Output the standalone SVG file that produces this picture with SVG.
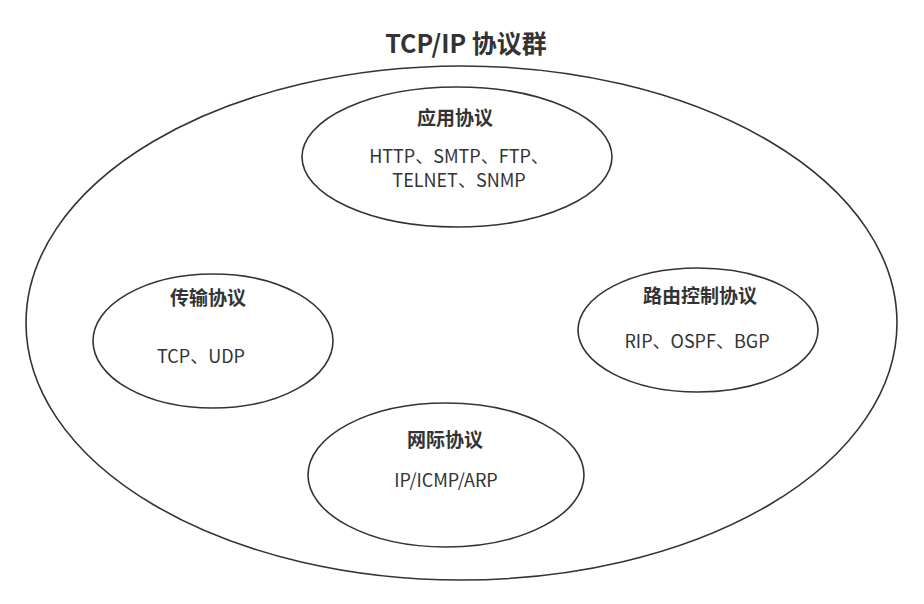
<svg xmlns="http://www.w3.org/2000/svg" width="924" height="604" viewBox="0 0 924 604">
<style>
.e{fill:none;stroke:#333;stroke-width:1.6}
.t{font-family:"Noto Sans CJK SC","Noto Sans",sans-serif;fill:#333;text-anchor:middle}
.h{font-size:19px;font-weight:bold}
.b{font-size:18px}
.title{font-size:25px;font-weight:bold}
</style>
<rect width="924" height="604" fill="#fff"/>
<g id="group">
<ellipse class="e" cx="461.5" cy="323" rx="435.5" ry="257"/>
<text class="t title" x="466" y="53">TCP/IP 协议群</text>
</g>
<g id="connectors"></g>
<g id="app">
<ellipse class="e" cx="457" cy="157" rx="155" ry="70"/>
<text class="t h" x="455" y="125">应用协议</text>
<text class="t b" x="459" y="163">HTTP、SMTP、FTP、</text>
<text class="t b" x="459" y="187">TELNET、SNMP</text>
</g>
<g id="transport">
<ellipse class="e" cx="213" cy="341" rx="120" ry="67"/>
<text class="t h" x="208" y="305">传输协议</text>
<text class="t b" x="201" y="363">TCP、UDP</text>
</g>
<g id="routing">
<ellipse class="e" cx="698" cy="330" rx="120" ry="62"/>
<text class="t h" x="700" y="303">路由控制协议</text>
<text class="t b" x="697" y="348">RIP、OSPF、BGP</text>
</g>
<g id="internet">
<ellipse class="e" cx="446" cy="475" rx="138" ry="72"/>
<text class="t h" x="445" y="447">网际协议</text>
<text class="t b" x="446" y="487">IP/ICMP/ARP</text>
</g>
</svg>
